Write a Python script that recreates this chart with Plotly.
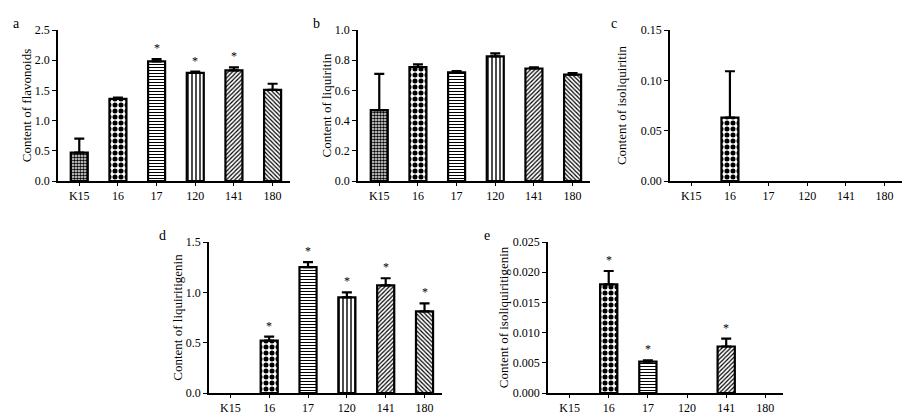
import plotly.graph_objects as go

# ── Data ────────────────────────────────────────────────────────────────────
cultivars = ['K15', '16', '17', '120', '141', '180']

flavonoids = [0.47, 1.36, 1.98, 1.79, 1.83, 1.51]
flavonoids_sd = [0.23, 0.02, 0.04, 0.02, 0.05, 0.10]
flavonoids_sig = [False, False, True, True, True, False]

liquiritin = [0.47, 0.755, 0.72, 0.825, 0.745, 0.705]
liquiritin_sd = [0.24, 0.018, 0.008, 0.02, 0.008, 0.01]
liquiritin_sig = [False] * 6

isoliquiritin = [0, 0.063, 0, 0, 0, 0]
isoliquiritin_sd = [0, 0.046, 0, 0, 0, 0]
isoliquiritin_sig = [False] * 6

liquiritigenin = [0, 0.52, 1.25, 0.95, 1.07, 0.81]
liquiritigenin_sd = [0, 0.04, 0.05, 0.05, 0.07, 0.08]
liquiritigenin_sig = [False, True, True, True, True, True]

isoliquiritigenin = [0, 0.018, 0.0052, 0, 0.0077, 0]
isoliquiritigenin_sd = [0, 0.0022, 0.0002, 0, 0.0013, 0]
isoliquiritigenin_sig = [False, True, True, False, True, False]

# ── Styling ─────────────────────────────────────────────────────────────────
FONT = 'Liberation Serif'
PATTERNS = [
    dict(shape='.', size=3, solidity=0.6, fgcolor='black', bgcolor='white'),
    dict(shape='.', size=6, solidity=0.55, fgcolor='black', bgcolor='white'),
    dict(shape='-', size=3, solidity=0.35, fgcolor='black', bgcolor='white'),
    dict(shape='|', size=4, solidity=0.35, fgcolor='black', bgcolor='white'),
    dict(shape='/', size=3, solidity=0.4, fgcolor='black', bgcolor='white'),
    dict(shape='\\', size=3, solidity=0.4, fgcolor='black', bgcolor='white'),
]

# page body has an 8px margin, so the figure is a little smaller than the window
OFF = 8
W, H = 918 - OFF, 419 - OFF


def dom_x(x0, x1):
    return [(x0 - OFF) / W, (x1 - OFF) / W]


def dom_y(top, bottom):
    return [1 - (bottom - OFF) / H, 1 - (top - OFF) / H]


def px(x, y):
    return (x - OFF) / W, 1 - (y - OFF) / H


panels = [
    # (letter, values, sd, sig, title, ymax, dtick, fmt, xdom, ydom, letter pos, title standoff)
    ('a', flavonoids, flavonoids_sd, flavonoids_sig, 'Content of flavonoids',
     2.5, 0.5, '.1f', dom_x(58, 290), dom_y(30, 181), (11, 14), 0),
    ('b', liquiritin, liquiritin_sd, liquiritin_sig, 'Content of liquiritin',
     1.0, 0.2, '.1f', dom_x(358, 590), dom_y(30, 181), (311, 14), 0),
    ('c', isoliquiritin, isoliquiritin_sd, isoliquiritin_sig, 'Content of isoliquiritin',
     0.15, 0.05, '.2f', dom_x(670, 902), dom_y(30, 181), (609, 14), 11),
    ('d', liquiritigenin, liquiritigenin_sd, liquiritigenin_sig, 'Content of liquiritigenin',
     1.5, 0.5, '.1f', dom_x(209, 442), dom_y(242, 393), (157, 226), 0),
    ('e', isoliquiritigenin, isoliquiritigenin_sd, isoliquiritigenin_sig, 'Content of isoliquiritigenin',
     0.025, 0.005, '.3f', dom_x(548, 783), dom_y(242, 393), (482, 226), 1),
]

fig = go.Figure()
layout = {}
annotations = []

for i, (letter, vals, sd, sig, title, ymax, dtick, fmt, xdom, ydom, lpos, standoff) in enumerate(panels):
    n = '' if i == 0 else str(i + 1)
    xa, ya = 'x' + n, 'y' + n

    # one trace per bar so each keeps its own pattern
    for j, cat in enumerate(cultivars):
        if vals[j] == 0:
            continue
        fig.add_trace(go.Bar(
            x=[cat], y=[vals[j]],
            xaxis=xa, yaxis=ya,
            width=0.44,
            marker=dict(color='white', line=dict(color='black', width=2.2),
                        pattern=PATTERNS[j]),
            error_y=dict(type='data', array=[sd[j]], arrayminus=[0], symmetric=False,
                         color='black', thickness=2.2, width=5),
            showlegend=False,
            hoverinfo='skip',
        ))

    # significance stars (category index as x, since names look numeric)
    for j, cat in enumerate(cultivars):
        if sig[j]:
            annotations.append(dict(
                text='*', x=j, y=vals[j] + sd[j], xref=xa, yref=ya,
                xanchor='center', yanchor='bottom', yshift=2, showarrow=False,
                font=dict(family=FONT, size=12, color='black'),
            ))

    layout['xaxis' + n] = dict(
        domain=xdom, anchor=ya, type='category', categoryorder='array',
        categoryarray=cultivars, range=[-0.55, 5.45],
        showline=True, linecolor='black', linewidth=1.5,
        ticks='outside', ticklen=3, tickwidth=1.2, tickcolor='black',
        tickfont=dict(family=FONT, size=12, color='black'),
        showgrid=False, zeroline=False, fixedrange=True,
    )
    layout['yaxis' + n] = dict(
        domain=ydom, anchor=xa, range=[0, ymax], dtick=dtick, tickformat=fmt,
        showline=True, linecolor='black', linewidth=1.5,
        ticks='outside', ticklen=4, tickwidth=1.2, tickcolor='black',
        tickfont=dict(family=FONT, size=12, color='black'),
        title=dict(text=title, font=dict(family=FONT, size=13, color='black'), standoff=standoff),
        showgrid=False, zeroline=False, fixedrange=True,
    )
    lx, ly = px(*lpos)
    annotations.append(dict(
        text=letter, xref='paper', yref='paper', x=lx, y=ly,
        xanchor='left', yanchor='top', showarrow=False,
        font=dict(family=FONT, size=14, color='black'),
    ))

fig.update_layout(
    **layout,
    annotations=annotations,
    width=W, height=H,
    margin=dict(l=0, r=0, t=0, b=0),
    paper_bgcolor='white', plot_bgcolor='white',
    font=dict(family=FONT, color='black'),
    barmode='overlay',
    template='none',
)

fig.write_html('out.html')
